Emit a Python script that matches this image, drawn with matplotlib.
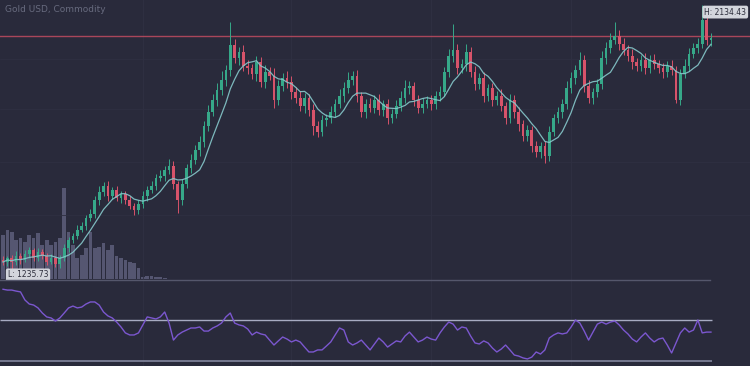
import numpy as np
import pandas as pd
import matplotlib
matplotlib.use("Agg")
import matplotlib.pyplot as plt
from matplotlib.lines import Line2D

# -----------------------------------------
# Data (weekly candles)
# -----------------------------------------

closes = [
    1259, 1273, 1259, 1280, 1266, 1286, 1300, 1273, 1293, 1280, 1259, 1273, 1252, 1273,
    1307, 1334, 1348, 1368, 1382, 1409, 1422, 1470, 1497, 1518,
    1484, 1504, 1477, 1490, 1470, 1450, 1436, 1456,
    1484, 1504, 1518, 1545, 1552, 1572, 1586,
    1524, 1470,
    1524, 1579, 1606, 1640, 1667, 1722, 1769, 1810, 1844, 1878, 1912,
    1997,
    1953, 1973, 1926, 1919, 1898, 1939, 1871, 1905, 1892,
    1810,
    1858, 1885, 1871, 1837, 1817, 1790, 1817, 1776,
    1722, 1701, 1742, 1749, 1769,
    1796, 1824, 1851, 1878, 1892,
    1824, 1769, 1796, 1783, 1810, 1776, 1796,
    1749, 1762, 1790, 1817, 1851, 1858, 1810, 1783, 1796, 1810, 1796, 1824, 1837,
    1905, 1960, 1980,
    1919, 1932, 1973, 1905, 1864, 1885, 1824, 1851, 1810, 1824,
    1790, 1749, 1810, 1769, 1728, 1688, 1708, 1654, 1633, 1654, 1620,
    1701, 1749, 1769, 1796, 1851, 1885, 1912, 1946,
    1858, 1817, 1837, 1864, 1953, 1987, 2014, 2028, 2000,
    1980, 1960, 1939, 1926, 1946, 1919, 1946, 1932, 1919, 1905, 1926, 1912,
    1810, 1898, 1926, 1966, 1987, 2000,
    2082, 2014, 2021,
]
first_open = 1266

wick_hi = [
    12, 8, 10, 15, 9, 14, 11, 8, 13, 10,
    9, 12, 7, 10, 14, 11, 9, 16, 12, 10,
    18, 14, 20, 12, 16, 10, 14, 9, 12, 15,
    10, 13, 16, 12, 18, 14, 20, 15, 22, 16,
    12, 18, 14, 20, 16, 22, 18, 25, 20, 24,
    30, 18, 78, 22, 18, 25, 20, 15, 22, 18,
    24, 16, 28, 20, 18, 24, 20, 16, 22, 18,
    14, 20, 16, 18, 14, 20, 16, 24, 20, 28,
    16, 20, 14, 18, 22, 16, 20, 14, 18, 16,
    20, 24, 26, 18, 14, 16, 20, 14, 18, 16,
    22, 18, 24, 90, 20, 16, 26, 18, 22, 16,
    20, 14, 18, 16, 22, 14, 20, 16, 18, 14,
    16, 12, 18, 14, 16, 20, 14, 18, 16, 22,
    20, 18, 27, 16, 20, 14, 18, 22, 20, 24,
    47, 20, 20, 16, 22, 14, 18, 24, 16, 20,
    14, 18, 16, 20, 14, 18, 24, 20, 16, 22,
    52.43, 18, 16,
]

wick_lo = [
    10, 14, 23.27, 9, 12, 8, 14, 10, 12, 9,
    11, 8, 10, 12, 9, 14, 10, 12, 8, 14,
    10, 12, 16, 14, 18, 12, 10, 16, 14, 12,
    18, 14, 12, 16, 10, 14, 12, 16, 14, 18,
    44, 16, 12, 18, 14, 20, 16, 18, 14, 20,
    16, 22, 20, 18, 24, 16, 20, 18, 22, 16,
    20, 14, 28, 18, 16, 20, 22, 18, 16, 24,
    22, 30, 18, 14, 20, 16, 18, 14, 20, 16,
    18, 22, 16, 20, 14, 18, 16, 20, 22, 16,
    14, 18, 16, 20, 22, 16, 18, 14, 20, 16,
    18, 14, 16, 20, 22, 18, 24, 16, 20, 18,
    22, 16, 20, 18, 16, 22, 18, 20, 24, 18,
    16, 22, 18, 20, 24, 18, 14, 16, 20, 18,
    16, 20, 18, 22, 16, 20, 18, 16, 20, 18,
    14, 20, 18, 16, 22, 18, 16, 20, 18, 16,
    18, 20, 16, 18, 10, 16, 14, 18, 12, 16,
    14, 18, 20,
]

# volume (thousands) only available for the first weeks
volume = [
    44, 49, 47, 39, 41, 37, 44, 41, 46, 34, 39, 34, 37, 41, 91, 47, 34, 21, 24,
    31, 47, 31, 32, 36, 29, 34, 23, 21, 19, 17, 16, 11, 2, 3, 3, 2, 2, 1,
]

rsi = [
    75.0, 74.6, 74.6, 74.1, 73.7, 69.8, 67.8, 67.3, 65.9, 63.4,
    61.5, 61.0, 59.5, 61.0, 63.4, 65.9, 66.8, 65.9, 66.3, 67.8,
    68.8, 68.8, 67.3, 63.9, 62.0, 61.0, 59.0, 56.6, 53.7, 52.7,
    52.7, 53.7, 57.6, 61.5, 61.0, 60.5, 61.5, 63.9, 58.5, 50.2,
    52.7, 54.1, 55.1, 56.1, 56.1, 56.6, 54.6, 54.6, 56.1, 57.1,
    58.5, 61.5, 63.4, 58.5, 57.6, 57.1, 55.6, 52.7, 54.1, 53.2,
    52.7, 50.2, 47.8, 49.8, 51.7, 50.7, 49.3, 50.2, 49.3, 46.8,
    44.4, 44.4, 45.4, 45.4, 47.3, 49.3, 52.7, 56.1, 55.1, 49.3,
    47.8, 48.8, 50.2, 47.8, 45.4, 48.3, 51.2, 49.3, 46.8, 48.3,
    49.8, 49.3, 52.2, 54.1, 51.7, 49.3, 50.2, 51.7, 50.7, 50.2,
    53.7, 56.6, 59.0, 58.0, 55.1, 56.6, 56.1, 52.2, 48.8, 48.3,
    49.8, 48.8, 46.3, 44.4, 45.8, 47.8, 45.4, 42.9, 42.4, 41.5,
    41.0, 41.9, 44.4, 43.4, 45.4, 51.2, 52.7, 53.7, 53.2, 53.7,
    56.6, 60.0, 58.5, 54.6, 50.2, 54.1, 58.0, 59.0, 58.0, 59.0,
    59.5, 57.6, 55.1, 53.2, 50.7, 49.3, 51.7, 53.7, 51.2, 49.3,
    50.7, 51.2, 47.8, 43.9, 48.8, 53.7, 56.1, 54.1, 55.1, 60.0,
    53.7, 54.1, 54.1,
]

resistance = 2028
rsi_upper = 60
rsi_lower = 40

# -----------------------------------------
# Prepare OHLC
# -----------------------------------------

df = pd.DataFrame({"close": closes})
df["open"] = [first_open] + closes[:-1]
df["high"] = df[["open", "close"]].max(axis=1) + np.array(wick_hi)
df["low"] = df[["open", "close"]].min(axis=1) - np.array(wick_lo)
df["ma"] = df["close"].rolling(7, min_periods=1).mean()
idx = np.arange(len(df))

hi_i = int(df["high"].idxmax())
lo_i = int(df["low"].idxmin())

# -----------------------------------------
# Style
# -----------------------------------------

bg = "#292a3b"
green = "#36a889"
red = "#d7536a"
grid_x = [32, 66, 98, 130]

fig = plt.figure(figsize=(7.5, 3.66), dpi=100, facecolor=bg)

H = 366.0
main_rect = [0, 1 - 281 / H, 1, 281 / H]
rsi_rect = [0, 0, 1, 85 / H]

xlim = (-0.69, -0.69 + 750 / 4.37)

# volume panel (behind the candles)
ax_vol = fig.add_axes(main_rect, facecolor=bg)
ax_vol.bar(np.arange(len(volume)), volume, width=0.85, color="#5a5c78", alpha=0.9, zorder=1)
ax_vol.set_xlim(*xlim)
ax_vol.set_ylim(-2, 279)

# price panel
ax = fig.add_axes(main_rect, facecolor="none")
ax.set_xlim(*xlim)
ax.set_ylim(2150 - 3.4 * 281, 2150)

for g in grid_x:
    ax.axvline(g, color="#303143", lw=0.6, zorder=0)
for p in [1950, 1780, 1600, 1420]:
    ax.axhline(p, color="#2e2f41", lw=0.6, zorder=0)

colors = np.where(df["close"] >= df["open"], green, red)
ax.vlines(idx, df["low"], df["high"], colors=colors, lw=0.7, zorder=3)
body_lo = df[["open", "close"]].min(axis=1)
body_h = (df["close"] - df["open"]).abs().clip(lower=3)
ax.bar(idx, body_h, bottom=body_lo, width=0.62, color=colors, zorder=4, linewidth=0)

ax.plot(idx, df["ma"], color="#86c8cb", lw=0.9, alpha=0.9, zorder=5)

ax.axhline(resistance, color="#b84a5e", lw=1.0, alpha=0.9, zorder=2)

ax.annotate(
    f"H: {df['high'][hi_i]:.2f}",
    xy=(hi_i, df["high"][hi_i]),
    xytext=(2, -3), textcoords="offset pixels",
    ha="left", va="top", fontsize=5.5, color="#2b2c3a",
    bbox=dict(boxstyle="round,pad=0.25", fc="#d3d5dc", ec="none"),
    zorder=8,
)
ax.annotate(
    f"L: {df['low'][lo_i]:.2f}",
    xy=(lo_i, df["low"][lo_i]),
    xytext=(-4, -6), textcoords="offset pixels",
    ha="left", va="center", fontsize=5.5, color="#2b2c3a",
    bbox=dict(boxstyle="round,pad=0.25", fc="#d3d5dc", ec="none"),
    zorder=8,
)

ax.text(5 / 750, 1 - 9 / 281, "Gold USD, Commodity", transform=ax.transAxes,
        fontsize=6.5, color="#676a7e", ha="left", va="center")

# separator line between panels
fig.add_artist(Line2D([0, 710 / 750], [1 - 280 / H, 1 - 280 / H],
                      color="#55576c", lw=1.0, transform=fig.transFigure))

# -----------------------------------------
# RSI panel
# -----------------------------------------

ax_rsi = fig.add_axes(rsi_rect, facecolor=bg)
ax_rsi.set_xlim(*xlim)
ax_rsi.set_ylim(rsi_lower - 5 * 20 / 41, rsi_upper + 39 * 20 / 41)
for g in grid_x:
    ax_rsi.axvline(g, color="#303143", lw=0.6, zorder=0)
ax_rsi.hlines(rsi_upper, xlim[0], 162.2, color="#a7abc2", lw=1.0, zorder=2)
ax_rsi.hlines(rsi_lower, xlim[0], 162.2, color="#7c7f96", lw=1.3, zorder=2)
ax_rsi.plot(idx, rsi, color="#7b57cf", lw=1.0, zorder=3)

for a in (ax_vol, ax, ax_rsi):
    a.set_xticks([])
    a.set_yticks([])
    for s in a.spines.values():
        s.set_visible(False)

fig.savefig("out.png", dpi=100, facecolor=bg)
